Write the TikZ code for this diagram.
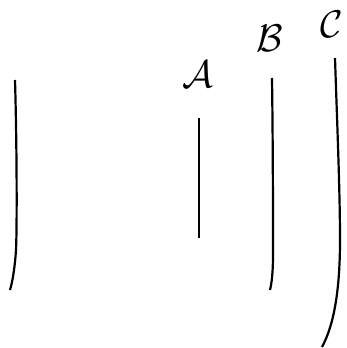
\documentclass[tikz,border=0pt]{standalone}
\usepackage{amsmath}
\usepackage{tikz}

\begin{document}
\begin{tikzpicture}[x=1pt,y=-1pt,line width=2.2pt]
\useasboundingbox (0,0) rectangle (346,348);
\coordinate (l1) at (15,80);
\coordinate (l2) at (10,290);
\coordinate (a1) at (199,118);
\coordinate (a2) at (199,238);
\coordinate (b1) at (272,78);
\coordinate (b2) at (270,290);
\coordinate (c1) at (335,58);
\coordinate (c2) at (322,347);
\draw (l1) .. controls (17,150) and (17,230) .. (16,250)
           .. controls (15,265) and (13,280) .. (l2);
\draw (a1)--(a2);
\draw (b1) .. controls (273,150) and (273,220) .. (273,255)
           .. controls (273,270) and (272,282) .. (b2);
\draw (c1) .. controls (337,120) and (340,190) .. (340,240)
           .. controls (340,290) and (334,325) .. (c2);
\node[font=\Huge] (A) at (198,74) {\scalebox{1.55}{$\mathcal{A}$}};
\node[font=\Huge] (B) at (270,38) {\scalebox{1.55}{$\mathcal{B}$}};
\node[font=\Huge] (C) at (332,24) {\scalebox{1.55}{$\mathcal{C}$}};
\end{tikzpicture}
\end{document}
